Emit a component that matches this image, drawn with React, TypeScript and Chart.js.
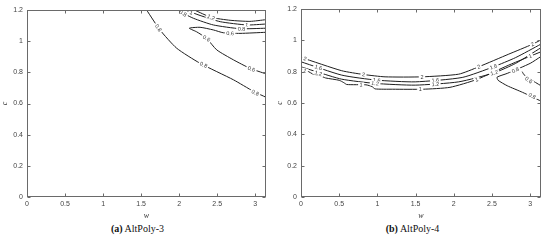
import React, { useEffect, useRef } from "react";
import { Chart, registerables } from "chart.js";
Chart.register(...registerables);

// Axis ticks
const W_TICKS = [0, 0.5, 1, 1.5, 2, 2.5, 3];
const C_TICKS = [0, 0.2, 0.4, 0.6, 0.8, 1, 1.2];
const W_MAX = Math.PI;
const C_MAX = 1.2;

// ---- (a) AltPoly-3 contour lines, points as [w, c] ----
const a3Level12: number[][] = [[2.2, 1.2], [2.42, 1.153], [2.67, 1.134], [2.93, 1.127], [3.1416, 1.138]];
const a3Level1: number[][] = [[2.08, 1.2], [2.275, 1.165], [2.54, 1.125], [2.89, 1.104], [3.1416, 1.11]];
const a3Level08u: number[][] = [[1.97, 1.2], [2.187, 1.147], [2.45, 1.104], [2.8, 1.08], [3.1416, 1.083]];
const a3Level06: number[][] = [[3.1416, 1.057], [2.8, 1.05], [2.58, 1.054], [2.45, 1.072], [2.275, 1.089], [2.133, 1.083], [2.23, 1.06], [2.36, 1.018], [2.494, 0.944], [2.714, 0.88], [2.93, 0.826], [3.1416, 0.79]];
const a3Level08l: number[][] = [[1.572, 1.2], [1.748, 1.072], [1.967, 0.955], [2.275, 0.858], [2.714, 0.752], [2.98, 0.677], [3.1416, 0.64]];
// contour labels [text, w, c]
const a3Labels: [string, number, number][] = [
  ["1.2", 2.42, 1.153], ["1", 2.16, 1.184], ["1", 2.89, 1.104], ["0.8", 2.05, 1.178], ["0.8", 2.82, 1.079],
  ["0.6", 2.67, 1.05], ["0.6", 2.36, 1.018], ["0.6", 2.95, 0.821],
  ["0.8", 1.726, 1.085], ["0.8", 2.32, 0.848], ["0.8", 3.0, 0.669],
];

// ---- (b) AltPoly-4 contour lines ----
const a4Level2: number[][] = [[0, 0.891], [0.533, 0.806], [0.818, 0.782], [1.1, 0.767], [1.583, 0.767], [2.064, 0.784], [2.326, 0.831], [2.72, 0.912], [3.03, 0.975], [3.1416, 1.003]];
const a4Level16: number[][] = [[0, 0.863], [0.533, 0.778], [0.99, 0.746], [1.495, 0.735], [2.11, 0.763], [2.52, 0.831], [2.81, 0.89], [3.1416, 0.976]];
const a4Level12: number[][] = [[0, 0.831], [0.2, 0.8], [0.533, 0.752], [0.97, 0.725], [1.495, 0.714], [2.064, 0.735], [2.53, 0.793], [2.81, 0.853], [3.1416, 0.953]];
const a4Level1: number[][] = [[0, 0.814], [0.1, 0.8], [0.15, 0.786], [0.25, 0.775], [0.32, 0.76], [0.5, 0.745], [0.56, 0.73], [0.6, 0.718], [0.85, 0.716], [0.93, 0.705], [0.97, 0.69], [1.2, 0.688], [1.6, 0.688], [1.95, 0.7], [2.3, 0.75], [2.72, 0.842], [3.1416, 0.927]];
const a4Level08: number[][] = [[3.1416, 0.897], [3.0, 0.853], [2.7, 0.789], [2.567, 0.765], [2.58, 0.745], [2.7, 0.71], [2.9, 0.668], [3.1416, 0.612]];
const a4Level06: number[][] = [[2.895, 0.8], [2.92, 0.78], [3.0, 0.752], [3.1416, 0.71]];
const a4Labels: [string, number, number][] = [
  ["2", 0.052, 0.883], ["2", 0.818, 0.782], ["2", 1.583, 0.767], ["2", 2.326, 0.831], ["2", 3.03, 0.975],
  ["1.6", 0.227, 0.827], ["1.6", 0.99, 0.746], ["1.6", 1.758, 0.745], ["1.6", 2.52, 0.831],
  ["1.2", 0.227, 0.79], ["1.2", 0.97, 0.725], ["1.2", 1.758, 0.72], ["1.2", 2.53, 0.793],
  ["1", 0.052, 0.806], ["1", 0.787, 0.716], ["1", 1.56, 0.688], ["1", 2.3, 0.75], ["1", 3.0, 0.9],
  ["0.8", 2.807, 0.81], ["0.8", 3.026, 0.645], ["0.6", 2.98, 0.746],
];

const a3Contours = [a3Level12, a3Level1, a3Level08u, a3Level06, a3Level08l];
const a4Contours = [a4Level2, a4Level16, a4Level12, a4Level1, a4Level08, a4Level06];

const TICK_FONT = "'Liberation Sans', Arial, sans-serif";
const fmt = (v: any) => String(Math.round(Number(v) * 10) / 10);

const framePlugin = {
  id: "frame",
  afterDraw(chart: any) {
    const { ctx, chartArea: a, scales } = chart;
    const xs = scales.x, ys = scales.y;
    ctx.save();
    ctx.strokeStyle = "#6a6a6a";
    ctx.lineWidth = 1;
    const L = Math.round(a.left) + 0.5, R = Math.round(a.right) - 0.5;
    const T = Math.round(a.top) + 0.5, B = Math.round(a.bottom) - 0.5;
    ctx.strokeRect(L, T, R - L, B - T);
    ctx.beginPath();
    for (const v of W_TICKS) {
      const px = Math.round(xs.getPixelForValue(v)) + 0.5;
      ctx.moveTo(px, B); ctx.lineTo(px, B - 3);
      ctx.moveTo(px, T); ctx.lineTo(px, T + 3);
    }
    for (const v of C_TICKS) {
      const py = Math.round(ys.getPixelForValue(v)) + 0.5;
      ctx.moveTo(L, py); ctx.lineTo(L + 3, py);
      ctx.moveTo(R, py); ctx.lineTo(R - 3, py);
    }
    ctx.stroke();
    ctx.restore();
  },
};

const labelPlugin = {
  id: "clabels",
  afterDatasetsDraw(chart: any, _args: any, opts: any) {
    const labels: [string, number, number][] = opts.labels || [];
    const { ctx, scales } = chart;
    const xs = scales.x, ys = scales.y;
    const segs: number[][] = [];
    chart.data.datasets.forEach((ds: any) => {
      const p = ds.data.map((d: any) => [xs.getPixelForValue(d.x), ys.getPixelForValue(d.y)]);
      for (let i = 0; i < p.length - 1; i++) segs.push([p[i][0], p[i][1], p[i + 1][0], p[i + 1][1]]);
    });
    ctx.save();
    ctx.font = `5.5px ${TICK_FONT}`;
    ctx.textAlign = "center";
    ctx.textBaseline = "middle";
    for (const [t, w, c] of labels) {
      const px = xs.getPixelForValue(w), py = ys.getPixelForValue(c);
      let best = Infinity, ang = 0;
      for (const [x1, y1, x2, y2] of segs) {
        const dx = x2 - x1, dy = y2 - y1;
        const l2 = dx * dx + dy * dy || 1;
        let u = ((px - x1) * dx + (py - y1) * dy) / l2;
        u = Math.max(0, Math.min(1, u));
        const qx = x1 + u * dx, qy = y1 + u * dy;
        const d = (qx - px) ** 2 + (qy - py) ** 2;
        if (d < best) { best = d; ang = Math.atan2(dy, dx); }
      }
      if (ang > Math.PI / 2) ang -= Math.PI;
      if (ang < -Math.PI / 2) ang += Math.PI;
      const tw = ctx.measureText(t).width;
      ctx.save();
      ctx.translate(px, py);
      ctx.rotate(ang);
      ctx.fillStyle = "#ffffff";
      ctx.fillRect(-tw / 2 - 1.5, -2.5, tw + 3, 5);
      ctx.fillStyle = "#333333";
      ctx.fillText(t, 0, 0.3);
      ctx.restore();
    }
    ctx.restore();
  },
};

function Panel(props: { contours: number[][][]; labels: [string, number, number][]; left: number; yWidth: number; padTop: number; padRight: number }) {
  const ref = useRef<HTMLCanvasElement>(null);
  useEffect(() => {
    const canvas = ref.current!;
    const chart = new Chart(canvas, {
      type: "scatter",
      data: {
        datasets: props.contours.map((pts) => ({
          data: pts.map(([w, c]) => ({ x: w, y: c })),
          showLine: true,
          borderColor: "#1e1e1e",
          borderWidth: 1,
          pointRadius: 0,
          tension: 0.2,
          fill: false,
        })),
      },
      options: {
        animation: false,
        responsive: false,
        events: [],
        layout: { padding: { top: props.padTop, right: props.padRight, left: 0, bottom: 0 } },
        plugins: {
          legend: { display: false },
          tooltip: { enabled: false },
          clabels: { labels: props.labels },
        } as any,
        scales: {
          x: {
            type: "linear",
            min: 0,
            max: W_MAX,
            grid: { display: false, drawTicks: false },
            border: { display: false },
            ticks: { stepSize: 0.5, includeBounds: false, autoSkip: false, maxRotation: 0, color: "#444", padding: 3, font: { size: 7, family: TICK_FONT }, callback: fmt },
            title: { display: true, text: "w", color: "#333", padding: { top: 0, bottom: 0 }, font: { size: 8, style: "italic", family: "'Liberation Serif', serif" } },
            afterFit: (s: any) => { s.height = 24; },
          },
          y: {
            type: "linear",
            min: 0,
            max: C_MAX,
            grid: { display: false, drawTicks: false },
            border: { display: false },
            ticks: { stepSize: 0.2, includeBounds: false, autoSkip: false, color: "#444", padding: 4, font: { size: 7, family: TICK_FONT }, callback: fmt },
            title: { display: true, text: "c", color: "#333", padding: { top: 0, bottom: 0 }, font: { size: 8, style: "italic", family: "'Liberation Serif', serif" } },
            afterFit: (s: any) => { s.width = props.yWidth; },
          },
        },
      },
      plugins: [framePlugin, labelPlugin],
    } as any);
    return () => chart.destroy();
  }, []);
  return (
    <div style={{ position: "absolute", left: props.left, top: 0, width: 275, height: 221 }}>
      <canvas ref={ref} width={275} height={221} style={{ width: 275, height: 221, display: "block" }} />
    </div>
  );
}

function Caption(props: { left: number; tag: string; name: string }) {
  return (
    <div style={{ position: "absolute", left: props.left, top: 222, width: 275, textAlign: "center", fontFamily: "'Liberation Serif', 'Times New Roman', serif", fontSize: 10, lineHeight: "14px", color: "#111" }}>
      <b>({props.tag})</b> {props.name}
    </div>
  );
}

export default function App() {
  return (
    <div style={{ position: "fixed", left: 0, top: 0, width: 550, height: 243, background: "#fff", overflow: "hidden" }}>
      <Panel contours={a3Contours} labels={a3Labels} left={0} yWidth={27} padTop={10} padRight={9} />
      <Panel contours={a4Contours} labels={a4Labels} left={275} yWidth={26} padTop={9} padRight={9} />
      <Caption left={0} tag="a" name="AltPoly-3" />
      <Caption left={275} tag="b" name="AltPoly-4" />
    </div>
  );
}
